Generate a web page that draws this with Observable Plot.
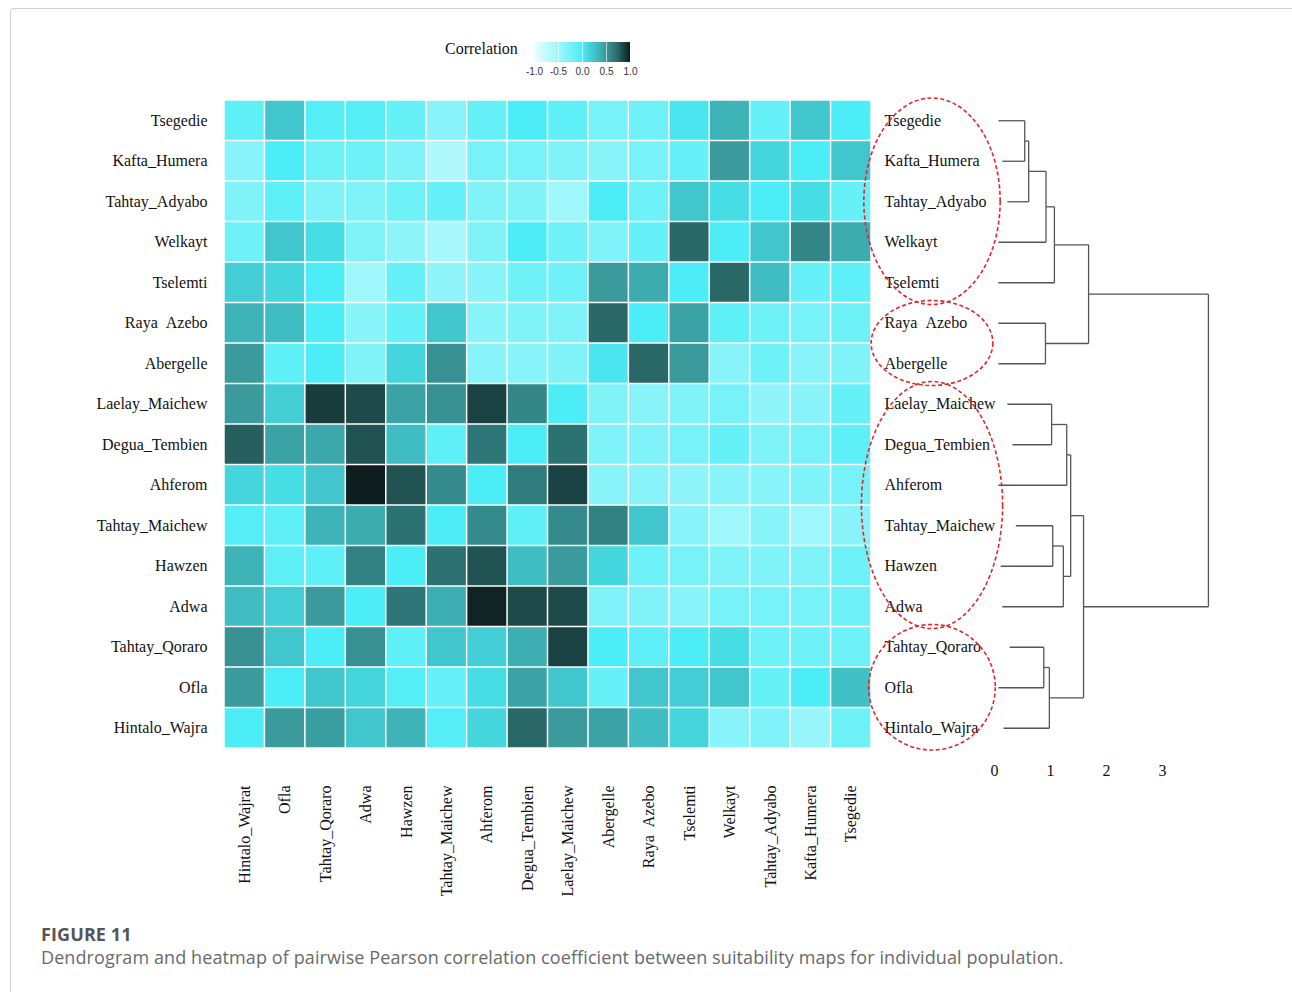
<!DOCTYPE html>
<html>
<head>
<meta charset="utf-8">
<script src="https://cdn.jsdelivr.net/npm/d3@7"></script>
<script src="https://cdn.jsdelivr.net/npm/@observablehq/plot@0.6"></script>
<style>
  html, body { margin: 0; padding: 0; background: #fff; }
  #page { position: relative; width: 1292px; height: 992px; overflow: hidden; background: #fff; }
  #frame { position: absolute; left: 10px; top: 8px; width: 1300px; height: 1000px;
           border-top: 1px solid #cfcfcf; border-left: 1px solid #cfcfcf; border-top-left-radius: 4px; }
  .layer { position: absolute; left: 0; top: 0; }
  #legendTitle { position: absolute; left: 445px; top: 40px; font: 16px "Liberation Serif", serif; color: #111; }
  #legend { position: absolute; left: 528px; top: 42px; }
  #cap1 { position: absolute; left: 41px; top: 922px; font: 700 18px "Open Sans", sans-serif; color: #555; letter-spacing: 0.1px; }
  #cap2 { position: absolute; left: 41px; top: 945px; font: 400 18px "Open Sans", sans-serif; color: #6a6a6a; letter-spacing: 0.1px; }
</style>
</head>
<body>
<div id="page">
  <div id="frame"></div>
  <div id="heat" class="layer"></div>
  <div id="dendro" class="layer"></div>
  <div id="legendTitle">Correlation</div>
  <div id="legend"></div>
  <div id="cap1">FIGURE 11</div>
  <div id="cap2">Dendrogram and heatmap of pairwise Pearson correlation coefficient between suitability maps for individual population.</div>
</div>
<script>
// ---- data ----
const rowNames = ["Tsegedie", "Kafta_Humera", "Tahtay_Adyabo", "Welkayt", "Tselemti", "Raya Azebo", "Abergelle",
  "Laelay_Maichew", "Degua_Tembien", "Ahferom", "Tahtay_Maichew", "Hawzen", "Adwa", "Tahtay_Qoraro", "Ofla", "Hintalo_Wajra"];
const colNames = ["Hintalo_Wajrat", "Ofla", "Tahtay_Qoraro", "Adwa", "Hawzen", "Tahtay_Maichew", "Ahferom", "Degua_Tembien",
  "Laelay_Maichew", "Abergelle", "Raya Azebo", "Tselemti", "Welkayt", "Tahtay_Adyabo", "Kafta_Humera", "Tsegedie"];
// correlation values, one array per row (top to bottom), columns left to right
const corr = [
  [-0.10, 0.25, -0.05, -0.05, -0.15, -0.35, -0.15, 0.00, -0.10, -0.25, -0.20, 0.05, 0.35, -0.15, 0.25, 0.00],
  [-0.35, 0.00, -0.20, -0.20, -0.30, -0.60, -0.25, -0.25, -0.30, -0.35, -0.25, -0.15, 0.50, 0.15, 0.00, 0.25],
  [-0.30, -0.10, -0.30, -0.30, -0.20, -0.15, -0.30, -0.30, -0.50, 0.00, -0.20, 0.25, 0.10, 0.00, 0.10, -0.15],
  [-0.20, 0.25, 0.10, -0.30, -0.40, -0.55, -0.30, 0.00, -0.20, -0.30, -0.15, 0.75, 0.00, 0.25, 0.60, 0.40],
  [0.20, 0.15, 0.00, -0.50, -0.15, -0.40, -0.35, -0.20, -0.20, 0.50, 0.40, 0.00, 0.75, 0.30, -0.15, -0.10],
  [0.35, 0.30, 0.00, -0.35, -0.15, 0.25, -0.35, -0.30, -0.30, 0.75, 0.00, 0.45, -0.10, -0.20, -0.25, -0.20],
  [0.50, -0.10, 0.00, -0.30, 0.15, 0.55, -0.35, -0.35, -0.30, 0.05, 0.75, 0.50, -0.35, -0.20, -0.35, -0.30],
  [0.50, 0.20, 0.90, 0.85, 0.45, 0.55, 0.88, 0.60, 0.00, -0.30, -0.35, -0.30, -0.25, -0.40, -0.35, -0.15],
  [0.78, 0.45, 0.42, 0.82, 0.30, -0.10, 0.68, 0.00, 0.70, -0.30, -0.30, -0.25, -0.15, -0.30, -0.25, -0.10],
  [0.15, 0.10, 0.25, 1.00, 0.82, 0.58, 0.00, 0.65, 0.88, -0.35, -0.35, -0.40, -0.35, -0.35, -0.30, -0.25],
  [-0.05, -0.10, 0.35, 0.40, 0.70, 0.00, 0.58, -0.10, 0.58, 0.62, 0.25, -0.35, -0.50, -0.35, -0.50, -0.35],
  [0.35, -0.10, -0.10, 0.62, 0.00, 0.70, 0.82, 0.30, 0.50, 0.15, -0.20, -0.25, -0.30, -0.30, -0.30, -0.20],
  [0.30, 0.20, 0.50, 0.00, 0.68, 0.38, 0.98, 0.85, 0.85, -0.30, -0.30, -0.35, -0.25, -0.25, -0.25, -0.20],
  [0.55, 0.25, 0.00, 0.55, -0.10, 0.25, 0.20, 0.38, 0.88, 0.00, -0.10, 0.00, 0.10, -0.20, -0.20, -0.20],
  [0.50, 0.00, 0.25, 0.15, -0.05, -0.15, 0.10, 0.45, 0.25, -0.15, 0.25, 0.20, 0.25, -0.15, 0.00, 0.28],
  [0.00, 0.50, 0.48, 0.25, 0.35, -0.05, 0.15, 0.75, 0.50, 0.45, 0.30, 0.15, -0.35, -0.30, -0.45, -0.20]
];
const legendTicks = [-1, -0.5, 0, 0.5, 1];
const dendroTicks = [0, 1, 2, 3];
// dendrogram merges: [child A, child B, height]; "mK" refers to merge K
const merges = [
  ["Tsegedie", "Kafta_Humera", 0.54],
  ["m0", "Tahtay_Adyabo", 0.61],
  ["m1", "Welkayt", 0.92],
  ["m2", "Tselemti", 1.07],
  ["Raya Azebo", "Abergelle", 0.91],
  ["m3", "m4", 1.68],
  ["Laelay_Maichew", "Degua_Tembien", 1.02],
  ["m6", "Ahferom", 1.29],
  ["Tahtay_Maichew", "Hawzen", 1.04],
  ["m8", "Adwa", 1.23],
  ["m7", "m9", 1.36],
  ["Tahtay_Qoraro", "Ofla", 0.88],
  ["m11", "Hintalo_Wajra", 0.98],
  ["m10", "m12", 1.59],
  ["m5", "m13", 3.82]
];
// where each leaf's branch begins (dendrogram units), row order
const leafStart = [0.07, 0.14, 0.23, 0.07, 0.07, 0.07, 0.07, 0.23, 0.32, 0.07, 0.38, 0.11, 0.14, 0.27, 0.07, 0.16];
// groups circled in red
const circled = [["Tsegedie", "Tselemti"], ["Raya Azebo", "Abergelle"], ["Laelay_Maichew", "Adwa"], ["Tahtay_Qoraro", "Hintalo_Wajra"]];

// ---- colours ----
const stops = ["#eaffff", "#c4fafd", "#a0f7fb", "#78f2f9", "#4cedf6", "#40c6cc", "#3a9a9c", "#2a6868", "#0e1e1e"];
const corrInterp = d3.piecewise(d3.interpolateRgb, stops);
const colorScale = {type: "linear", domain: [-1, 1], interpolate: corrInterp};
const fmt = d => d.replace(" ", "\u00a0\u00a0");
const serif = "'Liberation Serif', 'Times New Roman', serif";

// ---- heatmap ----
const cells = [];
rowNames.forEach((r, i) => colNames.forEach((c, j) => cells.push({row: r, col: c, value: corr[i][j]})));

const heat = Plot.plot({
  width: 1292, height: 910,
  marginLeft: 224, marginRight: 421, marginTop: 100, marginBottom: 162,
  style: {fontFamily: serif, fontSize: "16px", background: "transparent", color: "#111"},
  x: {domain: colNames, padding: 0, round: false, label: null},
  y: {domain: rowNames, padding: 0, round: false, label: null},
  color: colorScale,
  marks: [
    Plot.cell(cells, {x: "col", y: "row", fill: "value", inset: 0.75}),
    Plot.axisX({tickRotate: -90, tickSize: 0, tickPadding: 37, fontSize: 16, label: null, tickFormat: fmt}),
    Plot.axisY({tickSize: 0, tickPadding: 17, fontSize: 16, label: null, tickFormat: fmt})
  ]
});
document.getElementById("heat").append(heat);

// ---- dendrogram ----
const nodes = {};
rowNames.forEach((n, i) => nodes[n] = {h: leafStart[i], y: i + 0.5});
const segs = [];
merges.forEach(([a, b, h], k) => {
  const A = nodes[a], B = nodes[b];
  segs.push({x1: A.h, y1: A.y, x2: h, y2: A.y});
  segs.push({x1: B.h, y1: B.y, x2: h, y2: B.y});
  segs.push({x1: h, y1: A.y, x2: h, y2: B.y});
  nodes["m" + k] = {h, y: (A.y + B.y) / 2};
});

function ellipses(index, scales, values, dims) {
  const g = d3.create("svg:g")
    .attr("fill", "none").attr("stroke", "#e4252b")
    .attr("stroke-width", 1.6).attr("stroke-dasharray", "4,2.5");
  circled.forEach(([a, b]) => {
    const yA = scales.y(rowNames.indexOf(a)), yB = scales.y(rowNames.indexOf(b) + 1);
    const half = (yB - yA) / 2;
    g.append("ellipse")
      .attr("cx", dims.marginLeft - 62)
      .attr("cy", (yA + yB) / 2)
      .attr("rx", 56 + half * 0.12)
      .attr("ry", half + 2);
  });
  return g.node();
}

const dendro = Plot.plot({
  width: 1292, height: 910,
  marginLeft: 994, marginRight: 130, marginTop: 100, marginBottom: 162,
  style: {fontFamily: serif, fontSize: "16px", background: "transparent", color: "#111"},
  x: {domain: [0, 3], label: null},
  y: {domain: [0, 16], reverse: true, axis: null},
  marks: [
    Plot.link(segs, {x1: "x1", y1: "y1", x2: "x2", y2: "y2", stroke: "#555", strokeWidth: 1.3}),
    Plot.text(rowNames, {frameAnchor: "left", y: (d, i) => i + 0.5, dx: -110, textAnchor: "start", text: fmt, fontSize: 16, fill: "#111"}),
    Plot.axisX({ticks: dendroTicks, tickFormat: d => String(d), tickSize: 0, tickPadding: 16, fontSize: 16, label: null}),
    ellipses
  ]
});
document.getElementById("dendro").append(dendro);

// ---- legend ----
const leg = Plot.legend({
  color: colorScale,
  width: 108, height: 37, marginTop: 0, marginBottom: 17, marginLeft: 6, marginRight: 6,
  tickSize: 3, ticks: legendTicks, tickFormat: d => d.toFixed(1),
  style: {fontSize: "10px", fontFamily: "'Liberation Sans', Arial, sans-serif", background: "transparent", color: "#333"}
});
leg.querySelectorAll(".tick line").forEach(l => { l.setAttribute("stroke", "white"); l.setAttribute("stroke-opacity", "0.6"); });
document.getElementById("legend").append(leg);
</script>
</body>
</html>
